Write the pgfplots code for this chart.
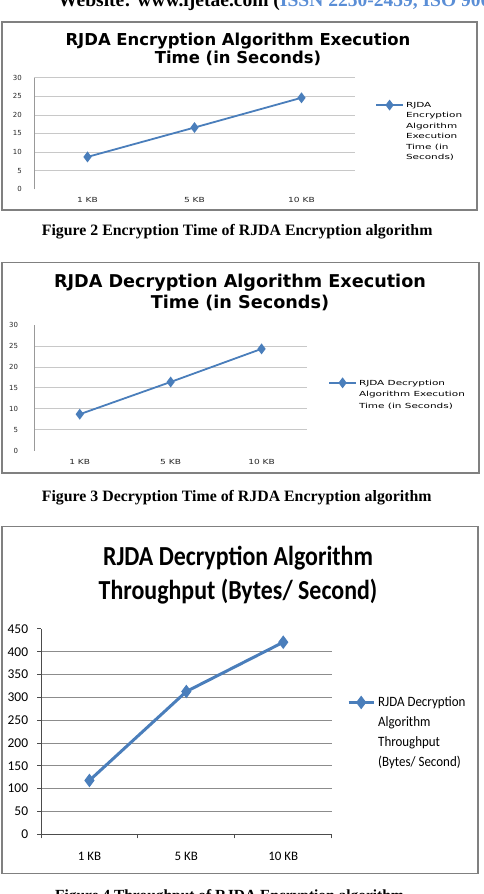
\documentclass[border=0pt]{standalone}
\usepackage{pgfplots}
\pgfplotsset{compat=1.18}
\usepackage{fontspec}
\usepackage{graphicx}
\setmainfont{Liberation Serif}
\newfontfamily\djs{DejaVu Sans}
\newfontfamily\carl{Carlito}
\definecolor{ser}{HTML}{4A7EBB}
\definecolor{hdrblue}{HTML}{5A8ED6}
\definecolor{framec}{HTML}{808080}
\definecolor{gridA}{HTML}{C8C8C8}
\definecolor{gridB}{HTML}{8C8C8C}
\pgfplotsset{
  rjda/.style={scale only axis, xmin=-0.5, xmax=2.5, xtick={0,1,2},
    axis lines=left, axis line style={-}, ymajorgrids, clip=false,
    /pgf/number format/assume math mode=true,
    legend cell align=left},
}
\begin{document}
\begin{tikzpicture}[x=1bp,y=1bp]
\path[use as bounding box] (0,0) rectangle (484,894);
\clip (0,0) rectangle (484,894);
% header
\node[anchor=base west, inner sep=0pt, font=\bfseries\fontsize{19.6}{22}\selectfont] at (58,887)
  {Website: www.ijetae.com (\textcolor{hdrblue}{ISSN 2250-2459, ISO 9001:2008 Certified Journal})};
% frames
\draw[framec, line width=1.2bp] (2,684) rectangle (477,872);
\draw[framec, line width=1.2bp] (2,421) rectangle (479,631.3);
\draw[framec, line width=1.2bp] (2,20.7) rectangle (478,367.3);
% titles
\node[anchor=base, inner sep=0pt, font=\djs\bfseries\fontsize{16.5}{20}\selectfont] at (238,848.7) {RJDA Encryption Algorithm Execution};
\node[anchor=base, inner sep=0pt, font=\djs\bfseries\fontsize{16.5}{20}\selectfont] at (238,830.7) {Time (in Seconds)};
\node[anchor=base, inner sep=0pt, font=\djs\bfseries\fontsize{17.7}{20}\selectfont] at (240,606.3) {RJDA Decryption Algorithm Execution};
\node[anchor=base, inner sep=0pt, font=\djs\bfseries\fontsize{17.7}{20}\selectfont] at (240,585.7) {Time (in Seconds)};
\node[anchor=base, inner sep=0pt, font=\carl\bfseries\fontsize{24}{28}\selectfont] at (238,328) {\scalebox{1}[1.15]{RJDA Decryption Algorithm}};
\node[anchor=base, inner sep=0pt, font=\carl\bfseries\fontsize{24}{28}\selectfont] at (238,294.7) {\scalebox{1}[1.15]{Throughput (Bytes/ Second)}};
% captions
\node[anchor=base west, inner sep=0pt, font=\bfseries\fontsize{15.9}{18}\selectfont] at (41.7,658.5) {Figure 2 Encryption Time of RJDA Encryption algorithm};
\node[anchor=base west, inner sep=0pt, font=\bfseries\fontsize{15.9}{18}\selectfont] at (41.7,392.3) {Figure 3 Decryption Time of RJDA Encryption algorithm};
\node[anchor=base west, inner sep=0pt, font=\bfseries\fontsize{15.5}{18}\selectfont] at (55,-6.6) {Figure 4 Throughput of RJDA Encryption algorithm};

% ---------- chart 1
\begin{axis}[rjda, at={(34bp,704.7bp)}, anchor=south west,
  width=321bp, height=111.6bp, ymin=0, ymax=30,
  ytick={5,10,...,30}, extra y ticks={0}, extra y tick style={grid=none},
  major tick length=0pt,
  x axis line style={draw=none}, y axis line style={color=black!40, line width=0.8bp},
  major grid style={gridA, line width=0.7bp},
  yticklabel style={font=\djs\fontsize{7}{8}\selectfont, anchor=east, inner sep=0pt, xshift=-12bp, text=black!85},
  xticklabels={\scalebox{1.3}[1]{1 KB}, \scalebox{1.3}[1]{5 KB}, \scalebox{1.3}[1]{10 KB}},
  xticklabel style={font=\djs\fontsize{7}{8}\selectfont, anchor=center, inner sep=0pt, yshift=-10.7bp, text=black!85},
  legend style={draw=none, fill=none, inner sep=0pt, at={(1.0623,0.8006)}, anchor=north west,
    cells={anchor=base west}, nodes={inner sep=0pt}, column sep=2bp},
  legend image code/.code={\draw[#1, mark repeat=2, mark phase=2] plot coordinates {(0bp,2.4bp) (13.5bp,2.4bp) (27bp,2.4bp)};},
]
\addplot[ser, line width=1.8bp, mark=diamond*, mark size=4bp, mark options={fill=ser, solid}]
  coordinates {(0,8.7) (1,16.6) (2,24.6)};
\addlegendentry{\djs\fontsize{7}{10.5}\selectfont\scalebox{1.5}[1]{\begin{tabular}[t]{@{}l@{}}RJDA\\Encryption\\Algorithm\\Execution\\Time (in\\Seconds)\end{tabular}}}
\end{axis}

% ---------- chart 2
\begin{axis}[rjda, at={(34.3bp,443.3bp)}, anchor=south west,
  width=272.7bp, height=125.7bp, ymin=0, ymax=30,
  ytick={5,10,...,25}, extra y ticks={0,30}, extra y tick style={grid=none},
  major tick length=0pt,
  x axis line style={draw=none}, y axis line style={color=black!40, line width=0.8bp},
  major grid style={gridA, line width=0.7bp},
  yticklabel style={font=\djs\fontsize{7}{8}\selectfont, anchor=east, inner sep=0pt, xshift=-16bp, text=black!85},
  xticklabels={\scalebox{1.3}[1]{1 KB}, \scalebox{1.3}[1]{5 KB}, \scalebox{1.3}[1]{10 KB}},
  xticklabel style={font=\djs\fontsize{7}{8}\selectfont, anchor=center, inner sep=0pt, yshift=-11.3bp, text=black!85},
  legend style={draw=none, fill=none, inner sep=0pt, at={(1.077,0.5843)}, anchor=north west,
    cells={anchor=base west}, nodes={inner sep=0pt}, column sep=2bp},
  legend image code/.code={\draw[#1, mark repeat=2, mark phase=2] plot coordinates {(0bp,2.6bp) (13.5bp,2.6bp) (27bp,2.6bp)};},
]
\addplot[ser, line width=1.8bp, mark=diamond*, mark size=4bp, mark options={fill=ser, solid}]
  coordinates {(0,8.7) (1,16.4) (2,24.3)};
\addlegendentry{\djs\fontsize{7}{11.5}\selectfont\scalebox{1.5}[1]{\begin{tabular}[t]{@{}l@{}}RJDA Decryption\\Algorithm Execution\\Time (in Seconds)\end{tabular}}}
\end{axis}

% ---------- chart 3
\begin{axis}[rjda, at={(41bp,59.7bp)}, anchor=south west,
  width=290.7bp, height=205.3bp, ymin=0, ymax=450,
  ytick={50,100,...,400}, extra y ticks={0,450}, extra y tick style={grid=none},
  major tick length=4bp, minor tick length=4bp, tick align=outside,
  minor xtick={-0.5,0.5,1.5,2.5},
  major x tick style={draw=none},
  minor x tick style={black!70, line width=1bp},
  major y tick style={black!70, line width=1bp},
  axis line style={black!70, line width=1bp},
  major grid style={gridB, line width=1bp},
  yticklabel style={font=\carl\fontsize{13.5}{15}\selectfont, anchor=east, inner sep=0pt, xshift=-8.7bp, text=black},
  xticklabels={1 KB, 5 KB, 10 KB},
  xticklabel style={font=\carl\fontsize{13}{15}\selectfont, anchor=center, inner sep=0pt, yshift=-17.7bp, text=black},
  legend style={draw=none, fill=none, inner sep=0pt, at={(1.0526,0.689)}, anchor=north west,
    cells={anchor=base west}, nodes={inner sep=0pt}, column sep=3bp},
  legend image code/.code={\draw[#1, mark repeat=2, mark phase=2] plot coordinates {(0bp,4.4bp) (12.5bp,4.4bp) (25bp,4.4bp)};},
]
\addplot[ser, line width=3bp, mark=diamond*, mark size=6bp, mark options={fill=ser, solid, line width=1bp}]
  coordinates {(0,118) (1,313) (2,421)};
\addlegendentry{\carl\fontsize{13}{18}\selectfont\scalebox{1}[1.1]{\begin{tabular}[t]{@{}l@{}}RJDA Decryption\\Algorithm\\Throughput\\(Bytes/ Second)\end{tabular}}}
\end{axis}
\end{tikzpicture}
\end{document}
